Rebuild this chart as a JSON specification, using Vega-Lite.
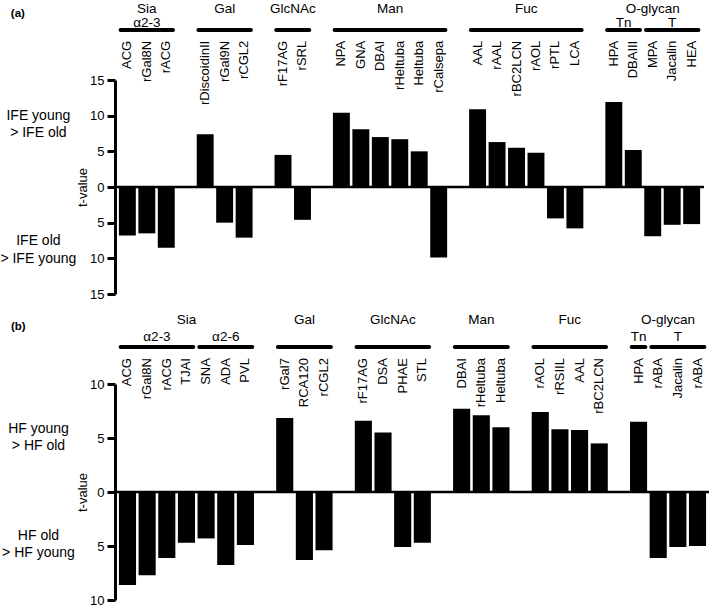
{
  "$schema": "https://vega.github.io/schema/vega-lite/v6.json",
  "padding": {"top": 2, "left": 0, "right": 0, "bottom": 0},
  "bounds": "flush",
  "spacing": 90,
  "config": {
    "font": "Liberation Sans",
    "view": {"stroke": null},
    "text": {"color": "black", "font": "Liberation Sans"}
  },
  "datasets": {
    "barsA": [
      {"key": "ACG", "lectin": "ACG", "t": -6.8},
      {"key": "rGal8N", "lectin": "rGal8N", "t": -6.5},
      {"key": "rACG", "lectin": "rACG", "t": -8.5},
      {"key": "rDiscoidinII", "lectin": "rDiscoidinII", "t": 7.4},
      {"key": "rGal9N", "lectin": "rGal9N", "t": -5.0},
      {"key": "rCGL2", "lectin": "rCGL2", "t": -7.1},
      {"key": "rF17AG", "lectin": "rF17AG", "t": 4.5},
      {"key": "rSRL", "lectin": "rSRL", "t": -4.6},
      {"key": "NPA", "lectin": "NPA", "t": 10.4},
      {"key": "GNA", "lectin": "GNA", "t": 8.1},
      {"key": "DBAI", "lectin": "DBAI", "t": 7.0},
      {"key": "rHeltuba", "lectin": "rHeltuba", "t": 6.7},
      {"key": "Heltuba", "lectin": "Heltuba", "t": 5.0},
      {"key": "rCalsepa", "lectin": "rCalsepa", "t": -9.9},
      {"key": "AAL", "lectin": "AAL", "t": 10.9},
      {"key": "rAAL", "lectin": "rAAL", "t": 6.3},
      {"key": "rBC2LCN", "lectin": "rBC2LCN", "t": 5.5},
      {"key": "rAOL", "lectin": "rAOL", "t": 4.8},
      {"key": "rPTL", "lectin": "rPTL", "t": -4.4},
      {"key": "LCA", "lectin": "LCA", "t": -5.8},
      {"key": "HPA", "lectin": "HPA", "t": 11.9},
      {"key": "DBAIII", "lectin": "DBAIII", "t": 5.2},
      {"key": "MPA", "lectin": "MPA", "t": -6.9},
      {"key": "Jacalin", "lectin": "Jacalin", "t": -5.3},
      {"key": "HEA", "lectin": "HEA", "t": -5.2}
    ],
    "brA": [
      {"start": "ACG", "end": "rACG"},
      {"start": "rDiscoidinII", "end": "rCGL2"},
      {"start": "rF17AG", "end": "rSRL"},
      {"start": "NPA", "end": "rCalsepa"},
      {"start": "AAL", "end": "LCA"},
      {"start": "HPA", "end": "DBAIII"},
      {"start": "MPA", "end": "HEA"}
    ],
    "hdrA": [
      {"text": "Sia", "mid": "rGal8N", "even": false, "level": "main"},
      {"text": "Gal", "mid": "rGal9N", "even": false, "level": "main"},
      {"text": "GlcNAc", "mid": "rF17AG", "even": true, "level": "main"},
      {"text": "Man", "mid": "DBAI", "even": true, "level": "main"},
      {"text": "Fuc", "mid": "rBC2LCN", "even": true, "level": "main"},
      {"text": "O-glycan", "mid": "MPA", "even": false, "level": "main"},
      {"text": "α2-3", "mid": "rGal8N", "even": false, "level": "sub"},
      {"text": "Tn", "mid": "HPA", "even": true, "level": "sub"},
      {"text": "T", "mid": "Jacalin", "even": false, "level": "sub"}
    ],
    "barsB": [
      {"key": "ACG", "lectin": "ACG", "t": -8.6},
      {"key": "rGal8N", "lectin": "rGal8N", "t": -7.7},
      {"key": "rACG", "lectin": "rACG", "t": -6.1},
      {"key": "TJAI", "lectin": "TJAI", "t": -4.7},
      {"key": "SNA", "lectin": "SNA", "t": -4.3},
      {"key": "ADA", "lectin": "ADA", "t": -6.75},
      {"key": "PVL", "lectin": "PVL", "t": -4.9},
      {"key": "rGal7", "lectin": "rGal7", "t": 6.85},
      {"key": "RCA120", "lectin": "RCA120", "t": -6.3},
      {"key": "rCGL2", "lectin": "rCGL2", "t": -5.4},
      {"key": "rF17AG", "lectin": "rF17AG", "t": 6.6},
      {"key": "DSA", "lectin": "DSA", "t": 5.5},
      {"key": "PHAE", "lectin": "PHAE", "t": -5.1},
      {"key": "STL", "lectin": "STL", "t": -4.7},
      {"key": "DBAI", "lectin": "DBAI", "t": 7.7},
      {"key": "rHeltuba", "lectin": "rHeltuba", "t": 7.1},
      {"key": "Heltuba", "lectin": "Heltuba", "t": 6.0},
      {"key": "rAOL", "lectin": "rAOL", "t": 7.4},
      {"key": "rRSIIL", "lectin": "rRSIIL", "t": 5.8},
      {"key": "AAL", "lectin": "AAL", "t": 5.75},
      {"key": "rBC2LCN", "lectin": "rBC2LCN", "t": 4.5},
      {"key": "HPA", "lectin": "HPA", "t": 6.5},
      {"key": "rABA", "lectin": "rABA", "t": -6.1},
      {"key": "Jacalin", "lectin": "Jacalin", "t": -5.1},
      {"key": "rABA#2", "lectin": "rABA", "t": -5.0}
    ],
    "brB": [
      {"start": "ACG", "end": "TJAI"},
      {"start": "SNA", "end": "PVL"},
      {"start": "rGal7", "end": "rCGL2"},
      {"start": "rF17AG", "end": "STL"},
      {"start": "DBAI", "end": "Heltuba"},
      {"start": "rAOL", "end": "rBC2LCN"},
      {"start": "HPA", "end": "HPA"},
      {"start": "rABA", "end": "rABA#2"}
    ],
    "hdrB": [
      {"text": "Sia", "mid": "TJAI", "even": false, "level": "main"},
      {"text": "Gal", "mid": "RCA120", "even": false, "level": "main"},
      {"text": "GlcNAc", "mid": "DSA", "even": true, "level": "main"},
      {"text": "Man", "mid": "rHeltuba", "even": false, "level": "main"},
      {"text": "Fuc", "mid": "rRSIIL", "even": true, "level": "main"},
      {"text": "O-glycan", "mid": "rABA", "even": true, "level": "main"},
      {"text": "α2-3", "mid": "rGal8N", "even": true, "level": "sub"},
      {"text": "α2-6", "mid": "ADA", "even": false, "level": "sub"},
      {"text": "Tn", "mid": "HPA", "even": false, "level": "sub"},
      {"text": "T", "mid": "Jacalin", "even": false, "level": "sub"}
    ]
  },
  "vconcat": [
    {
      "width": 589,
      "height": 214,
      "resolve": {"axis": {"y": "independent"}},
      "layer": [
        {
          "data": {"values": [{}]},
          "mark": {"type": "rule", "strokeWidth": 2.5, "color": "black"},
          "encoding": {
            "y": {"datum": 0, "type": "quantitative", "axis": null, "scale": {"domain": [-15, 15], "nice": false, "zero": false}}
          }
        },
        {
          "data": {"name": "barsA"},
          "mark": {"type": "bar", "color": "black"},
          "encoding": {
            "x": {"field": "key", "type": "nominal", "axis": null, "scale": {"domain": ["ACG","rGal8N","rACG","_g1","rDiscoidinII","rGal9N","rCGL2","_g2","rF17AG","rSRL","_g3","NPA","GNA","DBAI","rHeltuba","Heltuba","rCalsepa","_g4","AAL","rAAL","rBC2LCN","rAOL","rPTL","LCA","_g5","HPA","DBAIII","MPA","Jacalin","HEA"], "paddingInner": 0.13, "paddingOuter": 0.2}},
            "y": {"field": "t", "type": "quantitative", "scale": {"domain": [-15, 15], "nice": false, "zero": false},
              "axis": {"values": [-15, -10, -5, 0, 5, 10, 15], "labelExpr": "abs(datum.value)", "title": "t-value", "grid": false, "domainWidth": 3, "domainColor": "black", "tickWidth": 3, "tickColor": "black", "tickSize": 8, "labelColor": "black", "labelFontSize": 13, "labelPadding": 3, "titleFontSize": 13, "titleFontWeight": "normal", "titleColor": "black", "titlePadding": 0}}
          }
        },
        {
          "data": {"name": "barsA"},
          "mark": {"type": "text", "angle": 270, "align": "right", "baseline": "middle", "fontSize": 13},
          "encoding": {
            "x": {"field": "key", "type": "nominal", "axis": null, "scale": {"domain": ["ACG","rGal8N","rACG","_g1","rDiscoidinII","rGal9N","rCGL2","_g2","rF17AG","rSRL","_g3","NPA","GNA","DBAI","rHeltuba","Heltuba","rCalsepa","_g4","AAL","rAAL","rBC2LCN","rAOL","rPTL","LCA","_g5","HPA","DBAIII","MPA","Jacalin","HEA"], "paddingInner": 0.13, "paddingOuter": 0.2}},
            "y": {"datum": 20.5, "type": "quantitative", "axis": null, "scale": {"domain": [-15, 15], "nice": false, "zero": false}},
            "text": {"field": "lectin"}
          }
        },
        {
          "data": {"name": "brA"},
          "mark": {"type": "rule", "strokeWidth": 4, "strokeCap": "round", "color": "black"},
          "encoding": {
            "x": {"field": "start", "type": "nominal", "bandPosition": 0.1, "axis": null, "scale": {"domain": ["ACG","rGal8N","rACG","_g1","rDiscoidinII","rGal9N","rCGL2","_g2","rF17AG","rSRL","_g3","NPA","GNA","DBAI","rHeltuba","Heltuba","rCalsepa","_g4","AAL","rAAL","rBC2LCN","rAOL","rPTL","LCA","_g5","HPA","DBAIII","MPA","Jacalin","HEA"], "paddingInner": 0.13, "paddingOuter": 0.2}},
            "x2": {"field": "end", "bandPosition": 0.9},
            "y": {"datum": 22.0, "type": "quantitative", "axis": null, "scale": {"domain": [-15, 15], "nice": false, "zero": false}}
          }
        },
        {
          "data": {"name": "hdrA"},
          "transform": [{"filter": "datum.level == 'main' && !datum.even"}],
          "mark": {"type": "text", "align": "center", "baseline": "middle", "fontSize": 13.5},
          "encoding": {
            "x": {"field": "mid", "type": "nominal", "axis": null, "scale": {"domain": ["ACG","rGal8N","rACG","_g1","rDiscoidinII","rGal9N","rCGL2","_g2","rF17AG","rSRL","_g3","NPA","GNA","DBAI","rHeltuba","Heltuba","rCalsepa","_g4","AAL","rAAL","rBC2LCN","rAOL","rPTL","LCA","_g5","HPA","DBAIII","MPA","Jacalin","HEA"], "paddingInner": 0.13, "paddingOuter": 0.2}},
            "y": {"datum": 24.95, "type": "quantitative", "axis": null, "scale": {"domain": [-15, 15], "nice": false, "zero": false}},
            "text": {"field": "text"}
          }
        },
        {
          "data": {"name": "hdrA"},
          "transform": [{"filter": "datum.level == 'main' && datum.even"}],
          "mark": {"type": "text", "align": "center", "baseline": "middle", "fontSize": 13.5},
          "encoding": {
            "x": {"field": "mid", "type": "nominal", "bandPosition": 1.075, "axis": null, "scale": {"domain": ["ACG","rGal8N","rACG","_g1","rDiscoidinII","rGal9N","rCGL2","_g2","rF17AG","rSRL","_g3","NPA","GNA","DBAI","rHeltuba","Heltuba","rCalsepa","_g4","AAL","rAAL","rBC2LCN","rAOL","rPTL","LCA","_g5","HPA","DBAIII","MPA","Jacalin","HEA"], "paddingInner": 0.13, "paddingOuter": 0.2}},
            "y": {"datum": 24.95, "type": "quantitative", "axis": null, "scale": {"domain": [-15, 15], "nice": false, "zero": false}},
            "text": {"field": "text"}
          }
        },
        {
          "data": {"name": "hdrA"},
          "transform": [{"filter": "datum.level == 'sub' && !datum.even"}],
          "mark": {"type": "text", "align": "center", "baseline": "middle", "fontSize": 13.5},
          "encoding": {
            "x": {"field": "mid", "type": "nominal", "axis": null, "scale": {"domain": ["ACG","rGal8N","rACG","_g1","rDiscoidinII","rGal9N","rCGL2","_g2","rF17AG","rSRL","_g3","NPA","GNA","DBAI","rHeltuba","Heltuba","rCalsepa","_g4","AAL","rAAL","rBC2LCN","rAOL","rPTL","LCA","_g5","HPA","DBAIII","MPA","Jacalin","HEA"], "paddingInner": 0.13, "paddingOuter": 0.2}},
            "y": {"datum": 23.05, "type": "quantitative", "axis": null, "scale": {"domain": [-15, 15], "nice": false, "zero": false}},
            "text": {"field": "text"}
          }
        },
        {
          "data": {"name": "hdrA"},
          "transform": [{"filter": "datum.level == 'sub' && datum.even"}],
          "mark": {"type": "text", "align": "center", "baseline": "middle", "fontSize": 13.5},
          "encoding": {
            "x": {"field": "mid", "type": "nominal", "bandPosition": 1.075, "axis": null, "scale": {"domain": ["ACG","rGal8N","rACG","_g1","rDiscoidinII","rGal9N","rCGL2","_g2","rF17AG","rSRL","_g3","NPA","GNA","DBAI","rHeltuba","Heltuba","rCalsepa","_g4","AAL","rAAL","rBC2LCN","rAOL","rPTL","LCA","_g5","HPA","DBAIII","MPA","Jacalin","HEA"], "paddingInner": 0.13, "paddingOuter": 0.2}},
            "y": {"datum": 23.05, "type": "quantitative", "axis": null, "scale": {"domain": [-15, 15], "nice": false, "zero": false}},
            "text": {"field": "text"}
          }
        },
        {
          "data": {"values": [{}]},
          "mark": {"type": "text", "align": "center", "baseline": "middle", "fontSize": 14, "lineHeight": 17.5, "dx": -89},
          "encoding": {
            "x": {"datum": "ACG", "type": "nominal", "axis": null, "scale": {"domain": ["ACG","rGal8N","rACG","_g1","rDiscoidinII","rGal9N","rCGL2","_g2","rF17AG","rSRL","_g3","NPA","GNA","DBAI","rHeltuba","Heltuba","rCalsepa","_g4","AAL","rAAL","rBC2LCN","rAOL","rPTL","LCA","_g5","HPA","DBAIII","MPA","Jacalin","HEA"], "paddingInner": 0.13, "paddingOuter": 0.2}},
            "y": {"datum": 10.0, "type": "quantitative", "axis": null, "scale": {"domain": [-15, 15], "nice": false, "zero": false}},
            "text": {"value": ["IFE young", "> IFE old"]}
          }
        },
        {
          "data": {"values": [{}]},
          "mark": {"type": "text", "align": "center", "baseline": "middle", "fontSize": 14, "lineHeight": 17.5, "dx": -89},
          "encoding": {
            "x": {"datum": "ACG", "type": "nominal", "axis": null, "scale": {"domain": ["ACG","rGal8N","rACG","_g1","rDiscoidinII","rGal9N","rCGL2","_g2","rF17AG","rSRL","_g3","NPA","GNA","DBAI","rHeltuba","Heltuba","rCalsepa","_g4","AAL","rAAL","rBC2LCN","rAOL","rPTL","LCA","_g5","HPA","DBAIII","MPA","Jacalin","HEA"], "paddingInner": 0.13, "paddingOuter": 0.2}},
            "y": {"datum": -7.6, "type": "quantitative", "axis": null, "scale": {"domain": [-15, 15], "nice": false, "zero": false}},
            "text": {"value": ["IFE old", "> IFE young"]}
          }
        },
        {
          "data": {"values": [{}]},
          "mark": {"type": "text", "align": "left", "baseline": "middle", "fontSize": 11.5, "fontWeight": "bold", "dx": -116.5},
          "encoding": {
            "x": {"datum": "ACG", "type": "nominal", "axis": null, "scale": {"domain": ["ACG","rGal8N","rACG","_g1","rDiscoidinII","rGal9N","rCGL2","_g2","rF17AG","rSRL","_g3","NPA","GNA","DBAI","rHeltuba","Heltuba","rCalsepa","_g4","AAL","rAAL","rBC2LCN","rAOL","rPTL","LCA","_g5","HPA","DBAIII","MPA","Jacalin","HEA"], "paddingInner": 0.13, "paddingOuter": 0.2}},
            "y": {"datum": 24.3, "type": "quantitative", "axis": null, "scale": {"domain": [-15, 15], "nice": false, "zero": false}},
            "text": {"value": "(a)"}
          }
        }
      ]
    },
    {
      "width": 595,
      "height": 216,
      "resolve": {"axis": {"y": "independent"}},
      "layer": [
        {
          "data": {"values": [{}]},
          "mark": {"type": "rule", "strokeWidth": 2.5, "color": "black"},
          "encoding": {
            "y": {"datum": 0, "type": "quantitative", "axis": null, "scale": {"domain": [-10, 10], "nice": false, "zero": false}}
          }
        },
        {
          "data": {"name": "barsB"},
          "mark": {"type": "bar", "color": "black"},
          "encoding": {
            "x": {"field": "key", "type": "nominal", "axis": null, "scale": {"domain": ["ACG","rGal8N","rACG","TJAI","SNA","ADA","PVL","_g1","rGal7","RCA120","rCGL2","_g2","rF17AG","DSA","PHAE","STL","_g3","DBAI","rHeltuba","Heltuba","_g4","rAOL","rRSIIL","AAL","rBC2LCN","_g5","HPA","rABA","Jacalin","rABA#2"], "paddingInner": 0.13, "paddingOuter": 0.2}},
            "y": {"field": "t", "type": "quantitative", "scale": {"domain": [-10, 10], "nice": false, "zero": false},
              "axis": {"values": [-10, -5, 0, 5, 10], "labelExpr": "abs(datum.value)", "title": "t-value", "grid": false, "domainWidth": 3, "domainColor": "black", "tickWidth": 3, "tickColor": "black", "tickSize": 8, "labelColor": "black", "labelFontSize": 13, "labelPadding": 3, "titleFontSize": 13, "titleFontWeight": "normal", "titleColor": "black", "titlePadding": 0}}
          }
        },
        {
          "data": {"name": "barsB"},
          "mark": {"type": "text", "angle": 270, "align": "right", "baseline": "middle", "fontSize": 13},
          "encoding": {
            "x": {"field": "key", "type": "nominal", "axis": null, "scale": {"domain": ["ACG","rGal8N","rACG","TJAI","SNA","ADA","PVL","_g1","rGal7","RCA120","rCGL2","_g2","rF17AG","DSA","PHAE","STL","_g3","DBAI","rHeltuba","Heltuba","_g4","rAOL","rRSIIL","AAL","rBC2LCN","_g5","HPA","rABA","Jacalin","rABA#2"], "paddingInner": 0.13, "paddingOuter": 0.2}},
            "y": {"datum": 12.4, "type": "quantitative", "axis": null, "scale": {"domain": [-10, 10], "nice": false, "zero": false}},
            "text": {"field": "lectin"}
          }
        },
        {
          "data": {"name": "brB"},
          "mark": {"type": "rule", "strokeWidth": 4, "strokeCap": "round", "color": "black"},
          "encoding": {
            "x": {"field": "start", "type": "nominal", "bandPosition": 0.1, "axis": null, "scale": {"domain": ["ACG","rGal8N","rACG","TJAI","SNA","ADA","PVL","_g1","rGal7","RCA120","rCGL2","_g2","rF17AG","DSA","PHAE","STL","_g3","DBAI","rHeltuba","Heltuba","_g4","rAOL","rRSIIL","AAL","rBC2LCN","_g5","HPA","rABA","Jacalin","rABA#2"], "paddingInner": 0.13, "paddingOuter": 0.2}},
            "x2": {"field": "end", "bandPosition": 0.9},
            "y": {"datum": 13.43, "type": "quantitative", "axis": null, "scale": {"domain": [-10, 10], "nice": false, "zero": false}}
          }
        },
        {
          "data": {"name": "hdrB"},
          "transform": [{"filter": "datum.level == 'main' && !datum.even"}],
          "mark": {"type": "text", "align": "center", "baseline": "middle", "fontSize": 13.5},
          "encoding": {
            "x": {"field": "mid", "type": "nominal", "axis": null, "scale": {"domain": ["ACG","rGal8N","rACG","TJAI","SNA","ADA","PVL","_g1","rGal7","RCA120","rCGL2","_g2","rF17AG","DSA","PHAE","STL","_g3","DBAI","rHeltuba","Heltuba","_g4","rAOL","rRSIIL","AAL","rBC2LCN","_g5","HPA","rABA","Jacalin","rABA#2"], "paddingInner": 0.13, "paddingOuter": 0.2}},
            "y": {"datum": 15.9, "type": "quantitative", "axis": null, "scale": {"domain": [-10, 10], "nice": false, "zero": false}},
            "text": {"field": "text"}
          }
        },
        {
          "data": {"name": "hdrB"},
          "transform": [{"filter": "datum.level == 'main' && datum.even"}],
          "mark": {"type": "text", "align": "center", "baseline": "middle", "fontSize": 13.5},
          "encoding": {
            "x": {"field": "mid", "type": "nominal", "bandPosition": 1.075, "axis": null, "scale": {"domain": ["ACG","rGal8N","rACG","TJAI","SNA","ADA","PVL","_g1","rGal7","RCA120","rCGL2","_g2","rF17AG","DSA","PHAE","STL","_g3","DBAI","rHeltuba","Heltuba","_g4","rAOL","rRSIIL","AAL","rBC2LCN","_g5","HPA","rABA","Jacalin","rABA#2"], "paddingInner": 0.13, "paddingOuter": 0.2}},
            "y": {"datum": 15.9, "type": "quantitative", "axis": null, "scale": {"domain": [-10, 10], "nice": false, "zero": false}},
            "text": {"field": "text"}
          }
        },
        {
          "data": {"name": "hdrB"},
          "transform": [{"filter": "datum.level == 'sub' && !datum.even"}],
          "mark": {"type": "text", "align": "center", "baseline": "middle", "fontSize": 13.5},
          "encoding": {
            "x": {"field": "mid", "type": "nominal", "axis": null, "scale": {"domain": ["ACG","rGal8N","rACG","TJAI","SNA","ADA","PVL","_g1","rGal7","RCA120","rCGL2","_g2","rF17AG","DSA","PHAE","STL","_g3","DBAI","rHeltuba","Heltuba","_g4","rAOL","rRSIIL","AAL","rBC2LCN","_g5","HPA","rABA","Jacalin","rABA#2"], "paddingInner": 0.13, "paddingOuter": 0.2}},
            "y": {"datum": 14.35, "type": "quantitative", "axis": null, "scale": {"domain": [-10, 10], "nice": false, "zero": false}},
            "text": {"field": "text"}
          }
        },
        {
          "data": {"name": "hdrB"},
          "transform": [{"filter": "datum.level == 'sub' && datum.even"}],
          "mark": {"type": "text", "align": "center", "baseline": "middle", "fontSize": 13.5},
          "encoding": {
            "x": {"field": "mid", "type": "nominal", "bandPosition": 1.075, "axis": null, "scale": {"domain": ["ACG","rGal8N","rACG","TJAI","SNA","ADA","PVL","_g1","rGal7","RCA120","rCGL2","_g2","rF17AG","DSA","PHAE","STL","_g3","DBAI","rHeltuba","Heltuba","_g4","rAOL","rRSIIL","AAL","rBC2LCN","_g5","HPA","rABA","Jacalin","rABA#2"], "paddingInner": 0.13, "paddingOuter": 0.2}},
            "y": {"datum": 14.35, "type": "quantitative", "axis": null, "scale": {"domain": [-10, 10], "nice": false, "zero": false}},
            "text": {"field": "text"}
          }
        },
        {
          "data": {"values": [{}]},
          "mark": {"type": "text", "align": "center", "baseline": "middle", "fontSize": 14, "lineHeight": 17, "dx": -89},
          "encoding": {
            "x": {"datum": "ACG", "type": "nominal", "axis": null, "scale": {"domain": ["ACG","rGal8N","rACG","TJAI","SNA","ADA","PVL","_g1","rGal7","RCA120","rCGL2","_g2","rF17AG","DSA","PHAE","STL","_g3","DBAI","rHeltuba","Heltuba","_g4","rAOL","rRSIIL","AAL","rBC2LCN","_g5","HPA","rABA","Jacalin","rABA#2"], "paddingInner": 0.13, "paddingOuter": 0.2}},
            "y": {"datum": 5.85, "type": "quantitative", "axis": null, "scale": {"domain": [-10, 10], "nice": false, "zero": false}},
            "text": {"value": ["HF young", "> HF old"]}
          }
        },
        {
          "data": {"values": [{}]},
          "mark": {"type": "text", "align": "center", "baseline": "middle", "fontSize": 14, "lineHeight": 17, "dx": -89},
          "encoding": {
            "x": {"datum": "ACG", "type": "nominal", "axis": null, "scale": {"domain": ["ACG","rGal8N","rACG","TJAI","SNA","ADA","PVL","_g1","rGal7","RCA120","rCGL2","_g2","rF17AG","DSA","PHAE","STL","_g3","DBAI","rHeltuba","Heltuba","_g4","rAOL","rRSIIL","AAL","rBC2LCN","_g5","HPA","rABA","Jacalin","rABA#2"], "paddingInner": 0.13, "paddingOuter": 0.2}},
            "y": {"datum": -4.1, "type": "quantitative", "axis": null, "scale": {"domain": [-10, 10], "nice": false, "zero": false}},
            "text": {"value": ["HF old", "> HF young"]}
          }
        },
        {
          "data": {"values": [{}]},
          "mark": {"type": "text", "align": "left", "baseline": "middle", "fontSize": 11.5, "fontWeight": "bold", "dx": -116.5},
          "encoding": {
            "x": {"datum": "ACG", "type": "nominal", "axis": null, "scale": {"domain": ["ACG","rGal8N","rACG","TJAI","SNA","ADA","PVL","_g1","rGal7","RCA120","rCGL2","_g2","rF17AG","DSA","PHAE","STL","_g3","DBAI","rHeltuba","Heltuba","_g4","rAOL","rRSIIL","AAL","rBC2LCN","_g5","HPA","rABA","Jacalin","rABA#2"], "paddingInner": 0.13, "paddingOuter": 0.2}},
            "y": {"datum": 15.28, "type": "quantitative", "axis": null, "scale": {"domain": [-10, 10], "nice": false, "zero": false}},
            "text": {"value": "(b)"}
          }
        }
      ]
    }
  ]
}
